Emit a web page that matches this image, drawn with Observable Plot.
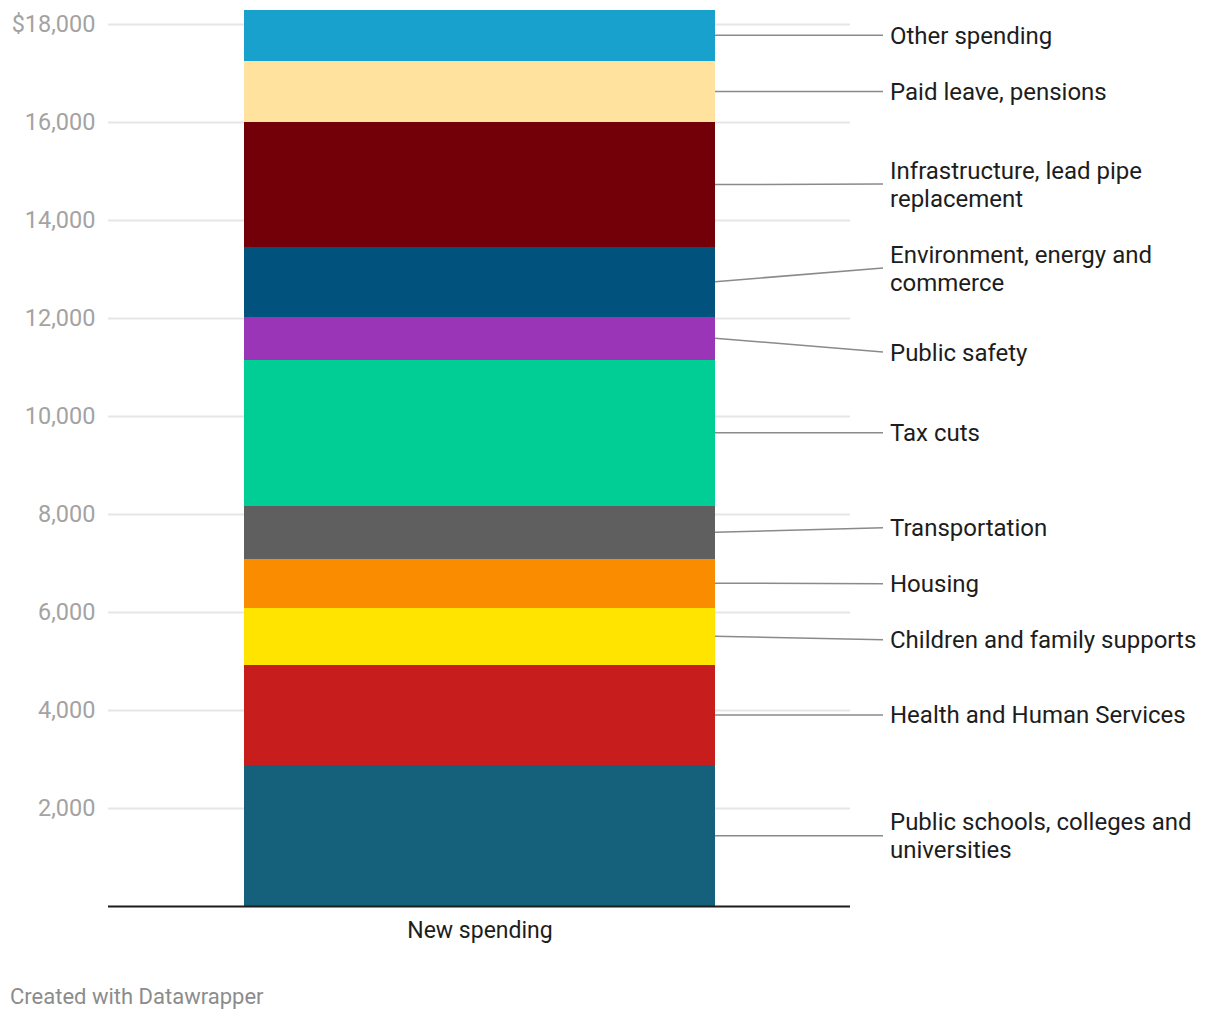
<!DOCTYPE html>
<html>
<head>
<meta charset="utf-8">
<script src="https://cdn.jsdelivr.net/npm/d3@7"></script>
<script src="https://cdn.jsdelivr.net/npm/@observablehq/plot@0.6"></script>
<style>
  html, body { margin: 0; padding: 0; background: #fff; }
  body { width: 1220px; height: 1020px; position: relative; font-family: Roboto, sans-serif; overflow: hidden; }
  #chart { position: absolute; left: 0; top: 0; }
  #credit { position: absolute; left: 10px; top: 984px; font-size: 22px; line-height: 26px; color: #8c8c8c; font-family: Roboto, sans-serif; }
</style>
</head>
<body>
<div id="chart"></div>
<div id="credit">Created with Datawrapper</div>
<script>
// ---- data ----
const barName = "New spending";
const categories = [
  "Public schools, colleges and universities",
  "Health and Human Services",
  "Children and family supports",
  "Housing",
  "Transportation",
  "Tax cuts",
  "Public safety",
  "Environment, energy and commerce",
  "Infrastructure, lead pipe replacement",
  "Paid leave, pensions",
  "Other spending"
];
const values = [2870, 2055, 1164, 1000, 1081, 2980, 877, 1429, 2537, 1259, 1041];
const colors = ["#15607a", "#c71e1d", "#ffe400", "#fa8c00", "#5f5f5f", "#00ce94", "#9b35b8", "#01527c", "#730009", "#fee29d", "#18a1cd"];
const yTicks = [2000, 4000, 6000, 8000, 10000, 12000, 14000, 16000, 18000];

const data = categories.map((c, i) => ({group: barName, category: c, value: values[i]}));

// ---- style / layout constants ----
const FONT = "Roboto, sans-serif";
const LABEL_SIZE = 24, LINE_H = 28, WRAP_W = 320;
const LEADER_LEN = 168, LABEL_GAP = 7;

const ctx = document.createElement("canvas").getContext("2d");
ctx.font = `${LABEL_SIZE}px Roboto`;
function wrap(text) {
  const words = text.split(" ");
  const lines = [];
  let cur = "";
  for (const w of words) {
    const t = cur ? cur + " " + w : w;
    if (cur && ctx.measureText(t).width > WRAP_W) { lines.push(cur); cur = w; }
    else cur = t;
  }
  if (cur) lines.push(cur);
  return lines;
}

function leaderLabels(index, scales, vals, dimensions) {
  const x = scales.x, y = scales.y;
  const bw = typeof x.bandwidth === "function" ? x.bandwidth() : scales.scales.x.bandwidth;
  const xEdge = x(barName) + bw;
  let cum = 0;
  const items = data.map(d => {
    const y0 = cum; cum += d.value;
    return {d, mid: y((y0 + cum) / 2), lines: wrap(d.category)};
  });
  const sorted = items.slice().sort((a, b) => a.mid - b.mid);
  const gap = (a, b) => LINE_H * (Math.max(a.lines.length, b.lines.length) + 1);
  const clusters = [];
  function place(c) {
    let off = 0;
    const offs = c.map((it, i) => { if (i > 0) off += gap(c[i - 1], it); return off; });
    const t = d3.mean(c, (it, i) => it.mid - offs[i]);
    c.forEach((it, i) => it.pos = t + offs[i]);
  }
  for (const it of sorted) {
    const c = [it];
    place(c);
    clusters.push(c);
    while (clusters.length > 1) {
      const A = clusters[clusters.length - 2], B = clusters[clusters.length - 1];
      const a = A[A.length - 1], b = B[0];
      if (a.pos + gap(a, b) > b.pos) {
        clusters.splice(clusters.length - 2, 2, A.concat(B));
        place(clusters[clusters.length - 1]);
      } else break;
    }
  }
  const g = d3.create("svg:g").attr("text-anchor", "start");
  for (const it of items) {
    g.append("line")
      .attr("x1", xEdge).attr("y1", it.mid)
      .attr("x2", xEdge + LEADER_LEN).attr("y2", it.pos)
      .attr("stroke", "#8a8a8a").attr("stroke-width", 1.5);
    const n = it.lines.length;
    const text = g.append("text")
      .attr("font-family", FONT).attr("font-size", LABEL_SIZE)
      .attr("text-anchor", "start")
      .attr("fill", "#1d1d1d");
    it.lines.forEach((ln, i) => {
      text.append("tspan")
        .attr("x", xEdge + LEADER_LEN + LABEL_GAP)
        .attr("y", it.pos + (i - (n - 1) / 2) * LINE_H)
        .attr("dy", "0.35em")
        .text(ln);
    });
  }
  return g.node();
}

const chart = Plot.plot({
  width: 1220,
  height: 960,
  marginTop: 24,
  marginBottom: 54,
  marginLeft: 108,
  marginRight: 370,
  style: {fontFamily: FONT, background: "#fff"},
  x: {domain: [barName], padding: 0.2234, label: null},
  y: {domain: [0, 18000], label: null},
  color: {domain: categories, range: colors},
  marks: [
    Plot.gridY(yTicks, {stroke: "#e6e6e6", strokeOpacity: 1, strokeWidth: 2}),
    Plot.barY(data, {x: "group", y: "value", fill: "category", shapeRendering: "crispEdges"}),
    Plot.ruleY([0], {stroke: "#1d1d1d", strokeWidth: 2}),
    Plot.axisY(yTicks, {
      tickSize: 0, tickPadding: 13, fontSize: 23.5, color: "#a3a3a3", label: null,
      tickFormat: d => d === 18000 ? "$" + d3.format(",")(d) : d3.format(",")(d)
    }),
    Plot.axisX({tickSize: 0, tickPadding: 15, fontSize: 23, color: "#1d1d1d", label: null}),
    leaderLabels
  ]
});
document.getElementById("chart").appendChild(chart);
</script>
</body>
</html>
